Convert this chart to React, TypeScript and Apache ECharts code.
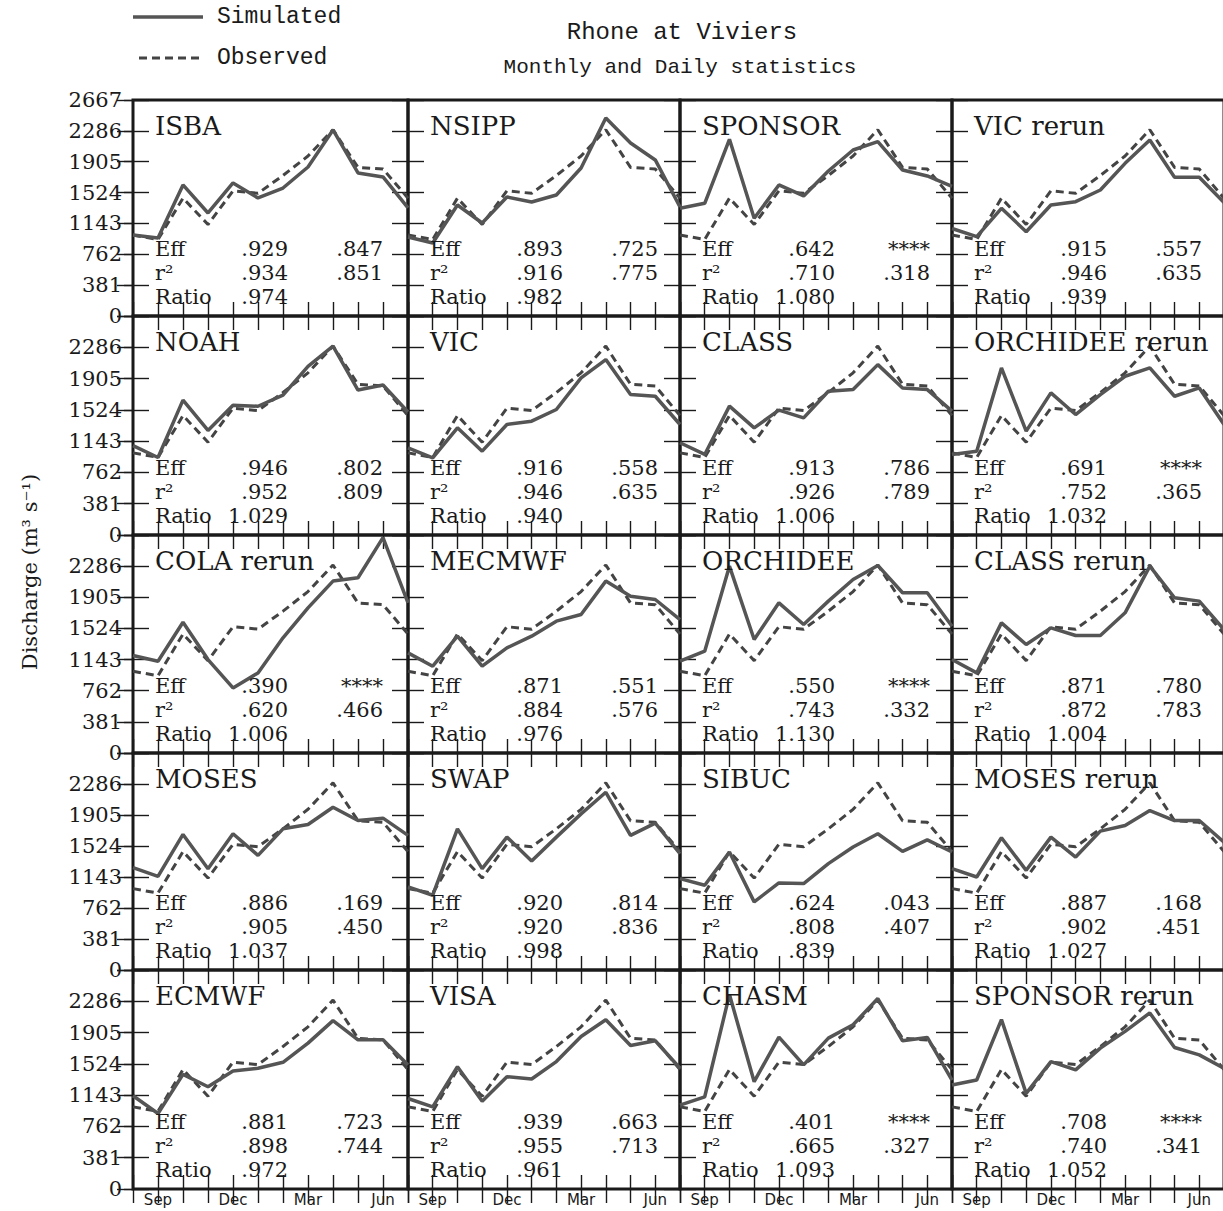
import React, { useEffect, useRef } from "react";
import * as echarts from "echarts";

// ---------------- data ----------------
const MONTHS = ["Sep", "Oct", "Nov", "Dec", "Jan", "Feb", "Mar", "Apr", "May", "Jun", "Jul", "Aug"];
const X_LABEL_INDEX = [1, 4, 7, 10];
const X_LABEL_TEXT = ["Sep", "Dec", "Mar", "Jun"];
const Y_MAX = 2667;
const Y_STEP = 381;

const OBSERVED = [1000, 945, 1455, 1130, 1545, 1515, 1735, 1975, 2300, 1835, 1815, 1455];

const MODEL_NAMES = [
  "ISBA", "NSIPP", "SPONSOR", "VIC rerun",
  "NOAH", "VIC", "CLASS", "ORCHIDEE rerun",
  "COLA rerun", "MECMWF", "ORCHIDEE", "CLASS rerun",
  "MOSES", "SWAP", "SIBUC", "MOSES rerun",
  "ECMWF", "VISA", "CHASM", "SPONSOR rerun",
];

const SIM_ISBA = [1000, 963, 1618, 1272, 1643, 1457, 1580, 1840, 2297, 1766, 1717, 1334];
const SIM_NSIPP = [975, 901, 1371, 1148, 1470, 1408, 1494, 1828, 2445, 2136, 1927, 1346];
const SIM_SPONSOR = [1330, 1392, 2182, 1206, 1618, 1482, 1790, 2050, 2153, 1803, 1729, 1600];
const SIM_VIC_RERUN = [1080, 980, 1330, 1041, 1371, 1412, 1556, 1885, 2174, 1713, 1713, 1400];
const SIM_NOAH = [1088, 944, 1642, 1273, 1581, 1568, 1704, 2053, 2299, 1765, 1827, 1498];
const SIM_VIC = [1062, 940, 1305, 1021, 1346, 1386, 1528, 1913, 2136, 1710, 1690, 1346];
const SIM_CLASS = [1123, 981, 1569, 1305, 1520, 1427, 1751, 1771, 2075, 1791, 1771, 1508];
const SIM_ORCHIDEE_RERUN = [981, 1021, 2035, 1265, 1731, 1467, 1710, 1933, 2035, 1690, 1791, 1346];
const SIM_COLA_RERUN = [1192, 1123, 1600, 1143, 796, 980, 1409, 1776, 2103, 2144, 2634, 1837];
const SIM_MECMWF = [1225, 1062, 1429, 1062, 1286, 1429, 1613, 1694, 2103, 1919, 1878, 1633];
const SIM_ORCHIDEE = [1123, 1245, 2286, 1388, 1837, 1572, 1858, 2123, 2295, 1960, 1960, 1551];
const SIM_CLASS_RERUN = [1143, 980, 1592, 1327, 1531, 1437, 1437, 1715, 2286, 1899, 1858, 1511];
const SIM_MOSES = [1258, 1151, 1666, 1245, 1674, 1409, 1735, 1788, 2001, 1837, 1866, 1654];
const SIM_SWAP = [1021, 919, 1735, 1245, 1633, 1339, 1633, 1919, 2184, 1654, 1805, 1429];
const SIM_SIBUC = [1123, 1041, 1450, 837, 1070, 1062, 1307, 1511, 1674, 1458, 1600, 1450];
const SIM_MOSES_RERUN = [1245, 1143, 1625, 1225, 1633, 1388, 1707, 1776, 1960, 1837, 1837, 1572];
const SIM_ECMWF = [1135, 919, 1396, 1245, 1437, 1470, 1543, 1776, 2050, 1817, 1817, 1511];
const SIM_VISA = [1102, 1000, 1490, 1070, 1368, 1339, 1552, 1858, 2062, 1748, 1805, 1470];
const SIM_CHASM = [1021, 1123, 2368, 1307, 1850, 1511, 1837, 2001, 2319, 1805, 1846, 1327];
const SIM_SPONSOR_RERUN = [1266, 1327, 2062, 1164, 1552, 1450, 1715, 1919, 2144, 1723, 1633, 1470];

const SIMULATED = [
  SIM_ISBA, SIM_NSIPP, SIM_SPONSOR, SIM_VIC_RERUN,
  SIM_NOAH, SIM_VIC, SIM_CLASS, SIM_ORCHIDEE_RERUN,
  SIM_COLA_RERUN, SIM_MECMWF, SIM_ORCHIDEE, SIM_CLASS_RERUN,
  SIM_MOSES, SIM_SWAP, SIM_SIBUC, SIM_MOSES_RERUN,
  SIM_ECMWF, SIM_VISA, SIM_CHASM, SIM_SPONSOR_RERUN,
];

const EFF_MONTHLY = [".929", ".893", ".642", ".915", ".946", ".916", ".913", ".691", ".390", ".871", ".550", ".871", ".886", ".920", ".624", ".887", ".881", ".939", ".401", ".708"];
const EFF_DAILY = [".847", ".725", "****", ".557", ".802", ".558", ".786", "****", "****", ".551", "****", ".780", ".169", ".814", ".043", ".168", ".723", ".663", "****", "****"];
const R2_MONTHLY = [".934", ".916", ".710", ".946", ".952", ".946", ".926", ".752", ".620", ".884", ".743", ".872", ".905", ".920", ".808", ".902", ".898", ".955", ".665", ".740"];
const R2_DAILY = [".851", ".775", ".318", ".635", ".809", ".635", ".789", ".365", ".466", ".576", ".332", ".783", ".450", ".836", ".407", ".451", ".744", ".713", ".327", ".341"];
const RATIO = [".974", ".982", "1.080", ".939", "1.029", ".940", "1.006", "1.032", "1.006", ".976", "1.130", "1.004", "1.037", ".998", ".839", "1.027", ".972", ".961", "1.093", "1.052"];

// ---------------- layout ----------------
const COL_LEFT = [133, 408, 680, 952];
const COL_W = [275, 272, 272, 272];
const ROW_TOP = [100, 316, 535, 753, 970];
const ROW_BOTTOM = [316, 535, 753, 970, 1189];

const SERIF = "DejaVu Serif";
const MONO = "Liberation Mono";
const INK = "#1a1a1a";
const SIM_COLOR = "#555555";
const OBS_COLOR = "#444444";

function buildOption() {
  const grid: any[] = [];
  const xAxis: any[] = [];
  const yAxis: any[] = [];
  const series: any[] = [];
  const graphic: any[] = [];

  MODEL_NAMES.forEach((name, p) => {
    const r = Math.floor(p / 4);
    const c = p % 4;
    const left = COL_LEFT[c];
    const top = ROW_TOP[r];
    const width = COL_W[c];
    const height = ROW_BOTTOM[r] - ROW_TOP[r];
    grid.push({
      left, top, width, height,
      show: true, borderColor: INK, borderWidth: 3, backgroundColor: "transparent",
      containLabel: false, outerBoundsMode: "none",
    });

    const tickStyle = { color: INK, width: 1.4 };
    const xb = xAxis.length;
    xAxis.push({
      gridIndex: p, type: "value", min: 0, max: 11, interval: 1, position: "bottom",
      axisLine: { show: false },
      axisTick: { show: true, inside: true, length: 14, lineStyle: tickStyle },
      splitLine: { show: false },
      axisLabel: {
        show: r === 4,
        margin: 3,
        fontFamily: "DejaVu Sans", fontSize: 15, color: INK,
        formatter: (v: number) => {
          const k = X_LABEL_INDEX.indexOf(v);
          return k >= 0 ? X_LABEL_TEXT[k] : "";
        },
      },
    });
    xAxis.push({
      gridIndex: p, type: "value", min: 0, max: 11, interval: 1, position: "top",
      axisLine: { show: false },
      axisTick: { show: true, inside: true, length: 14, lineStyle: tickStyle },
      splitLine: { show: false },
      axisLabel: { show: false },
    });

    const yl = yAxis.length;
    yAxis.push({
      gridIndex: p, type: "value", min: 0, max: Y_MAX, interval: Y_STEP, position: "left",
      axisLine: { show: false },
      axisTick: { show: true, inside: true, length: 16, lineStyle: tickStyle },
      splitLine: { show: false },
      axisLabel: {
        show: c === 0,
        margin: 11,
        fontFamily: SERIF, fontSize: 21, color: INK,
        formatter: (v: number) => (v === Y_MAX && r > 0 ? "" : String(v)),
      },
    });
    yAxis.push({
      gridIndex: p, type: "value", min: 0, max: Y_MAX, interval: Y_STEP, position: "right",
      axisLine: { show: false },
      axisTick: { show: true, inside: true, length: 16, lineStyle: tickStyle },
      splitLine: { show: false },
      axisLabel: { show: false },
    });
    if (c === 0) {
      yAxis.push({
        gridIndex: p, type: "value", min: 0, max: Y_MAX, interval: Y_STEP, position: "left",
        axisLine: { show: false },
        axisTick: { show: true, inside: false, length: 9, lineStyle: tickStyle },
        splitLine: { show: false },
        axisLabel: { show: false },
      });
    }

    series.push({
      type: "line", name: "Observed", xAxisIndex: xb, yAxisIndex: yl,
      data: OBSERVED.map((v, i) => [i, v]),
      symbol: "none", silent: true, z: 3,
      lineStyle: { color: OBS_COLOR, width: 3, type: [8, 5] },
    });
    series.push({
      type: "line", name: "Simulated", xAxisIndex: xb, yAxisIndex: yl,
      data: SIMULATED[p].map((v, i) => [i, v]),
      symbol: "none", silent: true, z: 4,
      lineStyle: { color: SIM_COLOR, width: 3.5 },
    });

    // panel annotations
    const zero = ROW_BOTTOM[r];
    const txt = (text: string, x: number, y: number, size: number, align = "left") => ({
      type: "text", x, y, z: 100,
      style: {
        text, fill: INK, fontFamily: SERIF, fontSize: size,
        textAlign: align, textVerticalAlign: "middle",
      },
    });
    graphic.push(txt(name, left + 22, top + 26, 26));
    graphic.push(txt("Eff", left + 22, zero - 67, 21));
    graphic.push(txt(EFF_MONTHLY[p], left + 155, zero - 67, 21, "right"));
    graphic.push(txt(EFF_DAILY[p], left + 250, zero - 67, 21, "right"));
    graphic.push(txt("r²", left + 22, zero - 43, 21));
    graphic.push(txt(R2_MONTHLY[p], left + 155, zero - 43, 21, "right"));
    graphic.push(txt(R2_DAILY[p], left + 250, zero - 43, 21, "right"));
    graphic.push(txt("Ratio", left + 22, zero - 19, 21));
    graphic.push(txt(RATIO[p], left + 155, zero - 19, 21, "right"));
  });

  // titles
  graphic.push({
    type: "text", x: 682, y: 32, z: 100,
    style: { text: "Rhone at Viviers", fill: INK, fontFamily: MONO, fontSize: 24, textAlign: "center", textVerticalAlign: "middle" },
  });
  graphic.push({
    type: "text", x: 680, y: 67, z: 100,
    style: { text: "Monthly and Daily statistics", fill: INK, fontFamily: MONO, fontSize: 21, textAlign: "center", textVerticalAlign: "middle" },
  });
  // legend
  graphic.push({
    type: "line", z: 100, shape: { x1: 133, y1: 17, x2: 203, y2: 17 },
    style: { stroke: SIM_COLOR, lineWidth: 3.5 },
  });
  graphic.push({
    type: "line", z: 100, shape: { x1: 139, y1: 58, x2: 203, y2: 58 },
    style: { stroke: OBS_COLOR, lineWidth: 3, lineDash: [8, 5] },
  });
  graphic.push({
    type: "text", x: 217, y: 17, z: 100,
    style: { text: "Simulated", fill: INK, fontFamily: MONO, fontSize: 23, textAlign: "left", textVerticalAlign: "middle" },
  });
  graphic.push({
    type: "text", x: 217, y: 58, z: 100,
    style: { text: "Observed", fill: INK, fontFamily: MONO, fontSize: 23, textAlign: "left", textVerticalAlign: "middle" },
  });
  // y-axis title
  graphic.push({
    type: "text", x: 30, y: 572, rotation: Math.PI / 2, z: 100,
    style: { text: "Discharge (m³ s⁻¹)", fill: INK, fontFamily: SERIF, fontSize: 21, textAlign: "center", textVerticalAlign: "middle" },
  });

  return {
    animation: false,
    backgroundColor: "#ffffff",
    grid, xAxis, yAxis, series, graphic,
  };
}

export default function App() {
  const ref = useRef<HTMLDivElement>(null);
  useEffect(() => {
    document.body.style.margin = "0";
    const chart = echarts.init(ref.current as HTMLDivElement, null, { renderer: "svg" });
    chart.setOption(buildOption() as any);
    return () => chart.dispose();
  }, []);
  return <div ref={ref} style={{ width: 1223, height: 1211 }} />;
}
